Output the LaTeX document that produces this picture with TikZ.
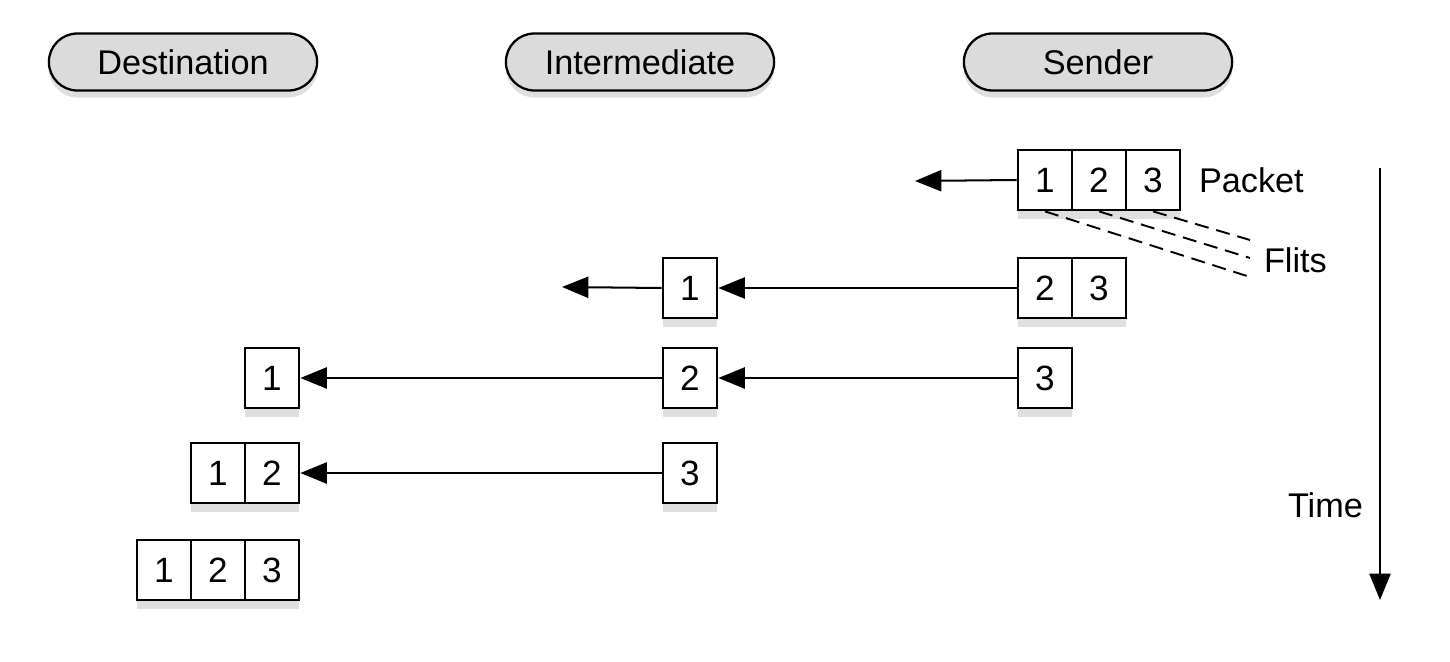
\documentclass[tikz,border=0pt]{standalone}
\usepackage{fontspec}
\setmainfont{Liberation Sans}
\usetikzlibrary{arrows.meta, shapes.misc, shadows}
\definecolor{PillGray}{rgb}{0.86, 0.86, 0.86}

\begin{document}
\begin{tikzpicture}[x=0.02cm, y=-0.02cm, >={Triangle[length=15pt, width=12pt]}, line width=1.15pt,
    station/.style={rounded rectangle, draw, line width=1.3pt, fill=PillGray,
        minimum width=5.6cm, minimum height=1.14cm, font=\fontsize{19.5}{23}\selectfont,
        drop shadow={shadow xshift=0pt, shadow yshift=-4pt, opacity=0.25}},
    flit/.style={draw, fill=white, line width=1.6pt, inner sep=0pt,
        minimum width=1.08cm, minimum height=1.2cm, font=\fontsize{20}{24}\selectfont,
        drop shadow={shadow xshift=0pt, shadow yshift=-5pt, opacity=0.25}},
    note/.style={anchor=west, inner sep=0pt, font=\fontsize{19.5}{23}\selectfont},
    flitline/.style={line width=1.1pt, dash pattern=on 8pt off 4.5pt}]
        \useasboundingbox (0,0) rectangle (1450,662);
        % Stations
        \node [station] (dest) at (183,62) {Destination};
        \node [station] (inter) at (640,62) {Intermediate};
        \node [station] (send) at (1098,62) {Sender};
        % Step 1: whole packet at sender
        \node [flit] (s1a) at (1045,180) {1};
        \node [flit] (s1b) at (1099,180) {2};
        \node [flit] (s1c) at (1153,180) {3};
        \node [note] (packet) at (1198,180) {Packet};
        \coordinate (s1out) at (915,181);
        \draw [->] (s1a.west) -- (s1out);
        % Flits marker
        \node [note] (flits) at (1263,260) {Flits};
        \coordinate (fa) at (1250,277);
        \coordinate (fb) at (1250,258);
        \coordinate (fc) at (1250,240);
        \draw [flitline] (s1a.south) -- (fa);
        \draw [flitline] (s1b.south) -- (fb);
        \draw [flitline] (s1c.south) -- (fc);
        % Step 2
        \node [flit] (i2a) at (690,288) {1};
        \node [flit] (s2a) at (1045,288) {2};
        \node [flit] (s2b) at (1099,288) {3};
        \coordinate (i2out) at (562,287);
        \draw [->] (i2a.west) -- (i2out);
        \draw [->] (s2a.west) -- (i2a.east);
        % Step 3
        \node [flit] (d3a) at (272,378) {1};
        \node [flit] (i3a) at (690,378) {2};
        \node [flit] (s3a) at (1045,378) {3};
        \draw [->] (i3a.west) -- (d3a.east);
        \draw [->] (s3a.west) -- (i3a.east);
        % Step 4
        \node [flit] (d4a) at (218,473) {1};
        \node [flit] (d4b) at (272,473) {2};
        \node [flit] (i4a) at (690,473) {3};
        \draw [->] (i4a.west) -- (d4b.east);
        % Step 5: whole packet at destination
        \node [flit] (d5a) at (164,570) {1};
        \node [flit] (d5b) at (218,570) {2};
        \node [flit] (d5c) at (272,570) {3};
        % Time axis
        \coordinate (tstart) at (1380,168);
        \coordinate (tend) at (1380,600);
        \draw [->] (tstart) -- (tend);
        \node [note] (time) at (1287,505) {Time};
    \end{tikzpicture}
\end{document}
